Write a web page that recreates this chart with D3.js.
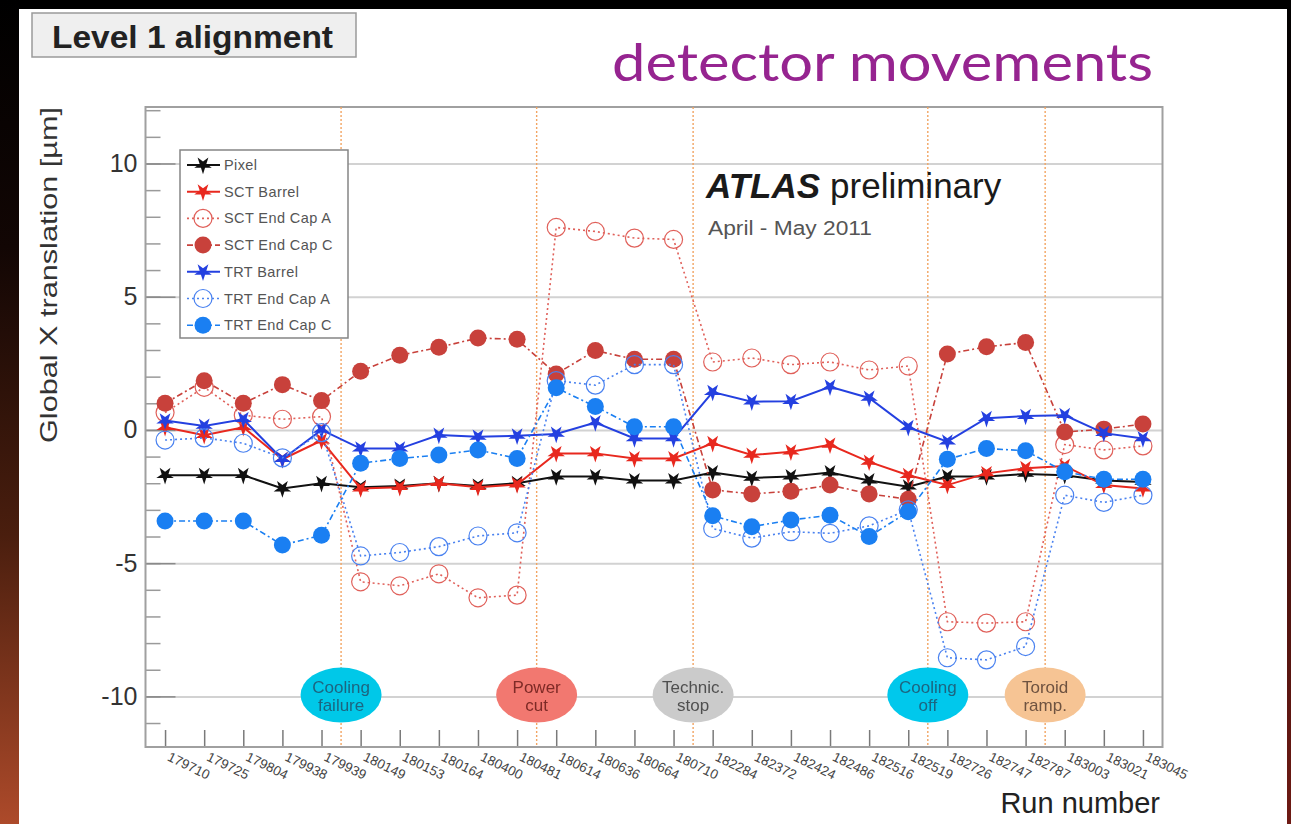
<!DOCTYPE html>
<html>
<head>
<meta charset="utf-8">
<script src="https://cdn.jsdelivr.net/npm/d3@7"></script>
<style>
  html, body { margin: 0; padding: 0; background: #000; }
  svg { display: block; }
  text { font-family: "Liberation Sans", Arial, Helvetica, sans-serif; }
</style>
</head>
<body>
<svg id="chart" width="1291" height="824"></svg>
<script>
// Run numbers along the x axis
const runs = ["179710","179725","179804","179938","179939","180149","180153","180164","180400","180481",
              "180614","180636","180664","180710","182284","182372","182424","182486","182516","182519",
              "182726","182747","182787","183003","183021","183045"];

// Global X translation per detector part [µm]
const pixel     = [-1.7,-1.7,-1.7,-2.2,-2.0,-2.15,-2.1,-2.0,-2.1,-2.0,-1.75,-1.75,-1.9,-1.9,-1.6,-1.8,-1.75,-1.6,-1.9,-2.13,-1.75,-1.75,-1.65,-1.7,-1.9,-1.95];
const sctBarrel = [0.1,-0.2,0.1,-1.1,-0.4,-2.2,-2.15,-2.0,-2.15,-2.05,-0.88,-0.88,-1.07,-1.07,-0.5,-0.94,-0.82,-0.56,-1.2,-1.7,-2.07,-1.63,-1.44,-1.35,-2.07,-2.2];
const sctEndCapA = [0.65,1.6,0.55,0.4,0.5,-5.7,-5.85,-5.4,-6.3,-6.2,7.6,7.45,7.2,7.15,2.55,2.7,2.45,2.55,2.25,2.4,-7.2,-7.25,-7.2,-0.55,-0.75,-0.6];
const sctEndCapC = [1.0,1.85,1.0,1.7,1.1,2.2,2.8,3.1,3.45,3.4,2.1,2.98,2.65,2.65,-2.25,-2.4,-2.3,-2.07,-2.4,-2.6,2.85,3.12,3.28,-0.08,0.03,0.22];
const trtBarrel = [0.35,0.15,0.4,-1.1,0.0,-0.7,-0.7,-0.19,-0.26,-0.22,-0.15,0.28,-0.32,-0.32,1.42,1.06,1.08,1.62,1.2,0.1,-0.44,0.44,0.52,0.55,-0.12,-0.32];
const trtEndCapA = [-0.38,-0.3,-0.5,-1.05,-0.1,-4.73,-4.6,-4.38,-3.98,-3.86,1.85,1.68,2.45,2.45,-3.7,-4.06,-3.82,-3.88,-3.6,-3.0,-8.55,-8.63,-8.13,-2.45,-2.72,-2.45];
const trtEndCapC = [-3.42,-3.42,-3.42,-4.32,-3.95,-1.25,-1.07,-0.94,-0.75,-1.07,1.58,0.88,0.12,0.12,-3.22,-3.63,-3.38,-3.2,-4.0,-3.07,-1.1,-0.7,-0.78,-1.57,-1.85,-1.85];

// y axis labelled ticks
const yTickValues = [-10, -5, 0, 5, 10];
const yTickLabels = ["-10", "-5", "0", "5", "10"];

// Series styling table
const series = [
  { name: "Pixel",          values: pixel,      color: "#111111", marker: "star",   dash: null },
  { name: "SCT Barrel",     values: sctBarrel,  color: "#e8281e", marker: "star",   dash: null },
  { name: "SCT End Cap A",  values: sctEndCapA, color: "#e0605a", marker: "open",   dash: "2,3" },
  { name: "SCT End Cap C",  values: sctEndCapC, color: "#c8413b", marker: "filled", dash: "6,3,2,3" },
  { name: "TRT Barrel",     values: trtBarrel,  color: "#2440e0", marker: "star",   dash: null },
  { name: "TRT End Cap A",  values: trtEndCapA, color: "#4a82f0", marker: "open",   dash: "2,3" },
  { name: "TRT End Cap C",  values: trtEndCapC, color: "#1a7ff2", marker: "filled", dash: "6,3,2,3" }
];

// Operational events, each placed between two consecutive runs
const eventAfter  = ["179939", "180481", "180710", "182519", "182787"];
const eventLabels = [["Cooling","failure"], ["Power","cut"], ["Technic.","stop"], ["Cooling","off"], ["Toroid","ramp."]];
const eventFills  = ["#00c8e8", "#f27870", "#cbcbcb", "#00c8ec", "#f6c494"];
const eventInk    = ["#1c6580", "#7e2a26", "#505050", "#1c6580", "#6e5240"];

const svg = d3.select("#chart");
const W = 1291, H = 824;

// ---- slide background ----
const defs = svg.append("defs");
const lg = defs.append("linearGradient").attr("id", "leftEdge").attr("x1", 0).attr("y1", 0).attr("x2", 0).attr("y2", 1);
lg.append("stop").attr("offset", "0").attr("stop-color", "#000000");
lg.append("stop").attr("offset", "0.3").attr("stop-color", "#120604");
lg.append("stop").attr("offset", "0.65").attr("stop-color", "#4a1e0e");
lg.append("stop").attr("offset", "1").attr("stop-color", "#ad4a2a");
const rg = defs.append("linearGradient").attr("id", "rightEdge").attr("x1", 0).attr("y1", 0).attr("x2", 0).attr("y2", 1);
rg.append("stop").attr("offset", "0").attr("stop-color", "#000000");
rg.append("stop").attr("offset", "1").attr("stop-color", "#6e1a14");
defs.append("filter").attr("id", "soft").append("feGaussianBlur").attr("stdDeviation", 0.7);

svg.append("rect").attr("width", W).attr("height", H).attr("fill", "#000");
svg.append("rect").attr("x", 0).attr("y", 0).attr("width", 19).attr("height", H).attr("fill", "url(#leftEdge)");
svg.append("rect").attr("x", 1287).attr("y", 0).attr("width", 4).attr("height", H).attr("fill", "url(#rightEdge)");
svg.append("rect").attr("x", 19).attr("y", 9).attr("width", 1268).attr("height", H - 9).attr("fill", "#ffffff");

// ---- headings ----
svg.append("rect").attr("x", 32).attr("y", 13).attr("width", 324).attr("height", 44)
  .attr("fill", "#efefef").attr("stroke", "#9a9a9a").attr("stroke-width", 1.5);
svg.append("text").attr("x", 52).attr("y", 48).attr("font-size", 31).attr("font-weight", "bold")
  .attr("fill", "#222").attr("textLength", 281).attr("lengthAdjust", "spacingAndGlyphs").text("Level 1 alignment");
svg.append("text").attr("x", 612).attr("y", 81).attr("font-size", 52)
  .style("font-family", "Lato, 'Open Sans', sans-serif").attr("fill", "#962490")
  .attr("textLength", 541).attr("lengthAdjust", "spacingAndGlyphs").text("detector movements");

// ---- plot area ----
const frame = { left: 145.5, right: 1162.5, top: 107, bottom: 747 };
const x = d3.scalePoint().domain(runs).range([frame.left, frame.right]).padding(0.5);
const y = d3.scaleLinear().domain([-11.9, 12.12]).range([frame.bottom, frame.top]);

// grid lines at labelled ticks
svg.append("g").attr("transform", `translate(${frame.left},0)`)
  .call(d3.axisLeft(y).tickValues(yTickValues).tickSize(-(frame.right - frame.left)).tickFormat(""))
  .call(g => g.select(".domain").remove())
  .call(g => g.selectAll("line").attr("stroke", "#d2d2d2").attr("stroke-width", 2));

// minor ticks on the y axis (inside the frame)
svg.append("g").attr("transform", `translate(${frame.left},0)`)
  .call(d3.axisRight(y).tickValues(d3.range(-11, 13, 1)).tickSize(15).tickFormat(""))
  .call(g => g.select(".domain").remove())
  .call(g => g.selectAll("line").attr("stroke", "#9a9a9a").attr("stroke-width", 1.5));
svg.append("g").attr("transform", `translate(${frame.left},0)`)
  .call(d3.axisRight(y).tickValues(yTickValues).tickSize(30).tickFormat(""))
  .call(g => g.select(".domain").remove())
  .call(g => g.selectAll("line").attr("stroke", "#8a8a8a").attr("stroke-width", 1.5));

// labelled y ticks
svg.append("g").attr("transform", `translate(${frame.left},0)`)
  .call(d3.axisLeft(y).tickValues(yTickValues).tickSize(0).tickPadding(8)
    .tickFormat((d, i) => yTickLabels[i]))
  .call(g => g.select(".domain").remove())
  .call(g => g.selectAll("text").attr("font-size", 25).attr("fill", "#333")
    .style("font-family", "'Liberation Sans', Arial, sans-serif"));

// ticks along the bottom at each run
svg.append("g").attr("transform", `translate(0,${frame.bottom})`)
  .call(d3.axisTop(x).tickSize(17).tickFormat(""))
  .call(g => g.select(".domain").remove())
  .call(g => g.selectAll("line").attr("stroke", "#7a7a7a").attr("stroke-width", 1.5));

// slanted run labels
svg.append("g").attr("transform", `translate(0,${frame.bottom})`)
  .call(d3.axisBottom(x).tickSize(0).tickPadding(0))
  .call(g => g.select(".domain").remove())
  .call(g => g.selectAll("text")
    .attr("text-anchor", "start").attr("dy", null).attr("y", 0)
    .attr("transform", "translate(1,13) rotate(26)")
    .attr("font-size", 13.5).attr("fill", "#444")
    .style("font-family", "'Liberation Sans', Arial, sans-serif"));

// frame
svg.append("rect").attr("x", frame.left).attr("y", frame.top)
  .attr("width", frame.right - frame.left).attr("height", frame.bottom - frame.top)
  .attr("fill", "none").attr("stroke", "#a0a0a0").attr("stroke-width", 2);

// event markers: vertical dotted lines and labelled ellipses
const eventX = eventAfter.map(r => {
  const i = runs.indexOf(r);
  return (x(runs[i]) + x(runs[i + 1])) / 2;
});
svg.append("g").selectAll("line").data(eventX).join("line")
  .attr("x1", d => d).attr("x2", d => d).attr("y1", frame.top).attr("y2", frame.bottom)
  .attr("stroke", "#f2a462").attr("stroke-width", 1.4).attr("stroke-dasharray", "2,2");

const evY = y(-9.95);
const ev = svg.append("g").attr("filter", "url(#soft)").selectAll("g").data(eventX).join("g")
  .attr("transform", d => `translate(${d},${evY})`);
ev.append("ellipse").attr("rx", 40.5).attr("ry", 27.5).attr("fill", (d, i) => eventFills[i]);
ev.each(function (d, i) {
  const t = d3.select(this).append("text").attr("text-anchor", "middle").attr("font-size", 17)
    .attr("fill", eventInk[i]);
  t.append("tspan").attr("x", 0).attr("y", -2).text(eventLabels[i][0]);
  t.append("tspan").attr("x", 0).attr("y", 16).text(eventLabels[i][1]);
});

// ---- data series ----
const star = d3.symbol().type(d3.symbolStar).size(95);
const line = d3.line().x((d, i) => x(runs[i])).y(d => y(d));

function drawMarker(sel, s) {
  if (s.marker === "star") sel.append("path").attr("d", star()).attr("transform", "rotate(180)").attr("fill", s.color);
  else if (s.marker === "filled") sel.append("circle").attr("r", 8.5).attr("fill", s.color);
  else sel.append("circle").attr("r", 9).attr("fill", "none").attr("stroke", s.color).attr("stroke-width", 1.2);
}

series.forEach(s => {
  const g = svg.append("g");
  g.append("path").datum(s.values).attr("d", line)
    .attr("fill", "none").attr("stroke", s.color)
    .attr("stroke-width", s.dash ? 1.6 : 2)
    .attr("stroke-dasharray", s.dash);
  g.selectAll(".pt").data(s.values).join("g")
    .attr("transform", (d, i) => `translate(${x(runs[i])},${y(d)})`)
    .each(function () { drawMarker(d3.select(this), s); });
});

// ---- legend ----
const leg = svg.append("g");
leg.append("rect").attr("x", 180).attr("y", 150).attr("width", 168).attr("height", 188)
  .attr("fill", "#fff").attr("stroke", "#858585").attr("stroke-width", 1.5);
series.forEach((s, i) => {
  const ly = 165 + i * 26.7;
  const row = leg.append("g").attr("transform", `translate(0,${ly})`);
  row.append("line").attr("x1", 187).attr("x2", 220).attr("y1", 0).attr("y2", 0)
    .attr("stroke", s.color).attr("stroke-width", s.dash ? 1.6 : 2).attr("stroke-dasharray", s.dash);
  drawMarker(row.append("g").attr("transform", "translate(203,0)"), s);
  row.append("text").attr("x", 224).attr("y", 5).attr("font-size", 14.5).attr("fill", "#555")
    .attr("letter-spacing", 0.4).text(s.name);
});

// ---- annotations ----
const atlas = svg.append("text").attr("x", 706).attr("y", 198).attr("font-size", 35).attr("fill", "#1a1a1a");
atlas.append("tspan").attr("font-weight", "bold").attr("font-style", "italic").text("ATLAS");
atlas.append("tspan").attr("dx", 10).text("preliminary");
svg.append("text").attr("x", 708).attr("y", 235).attr("font-size", 20).attr("fill", "#555")
  .attr("textLength", 164).attr("lengthAdjust", "spacingAndGlyphs").text("April - May 2011");

// axis titles
svg.append("text").attr("transform", "translate(57,275) rotate(-90)").attr("text-anchor", "middle")
  .attr("font-size", 24).attr("fill", "#333").attr("textLength", 336).attr("lengthAdjust", "spacingAndGlyphs")
  .text("Global X translation [µm]");
svg.append("text").attr("x", 1160).attr("y", 813).attr("text-anchor", "end").attr("font-size", 29)
  .attr("fill", "#222").text("Run number");
</script>
</body>
</html>
